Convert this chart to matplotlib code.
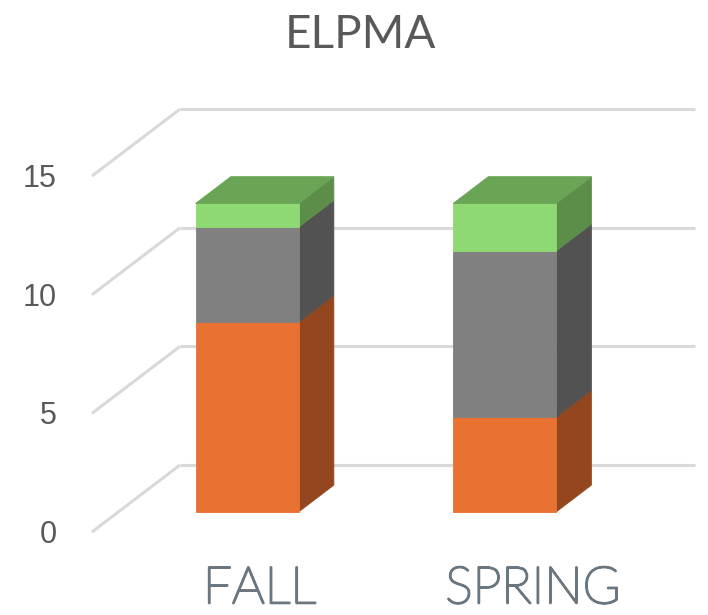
import matplotlib
matplotlib.use("Agg")
import matplotlib.pyplot as plt
from matplotlib.patches import Polygon
import matplotlib.patheffects as pe

# ---- data ----
title = "ELPMA"
categories = ["FALL", "SPRING"]
series_names = ["Series 1", "Series 2", "Series 3"]
series1 = [8, 4]   # orange
series2 = [4, 7]   # gray
series3 = [1, 2]   # green
y_ticks = [0, 5, 10, 15]

# ---- style ----
front_colors = ["#E97132", "#808080", "#8ED973"]
side_colors = ["#94471F", "#525252", "#5C8E4A"]
top_colors = ["#B4582A", "#6A6A6A", "#6AA556"]
grid_color = "#D9D9D9"
text_color = "#595959"
cat_color = "#6B7780"

# oblique projection (depth offsets in data units)
DX = 0.3417   # category units for full depth
DY = 2.821    # value units for full depth
D_FRONT, D_BACK = 0.30, 0.70
BAR_W = 0.40

fig = plt.figure(figsize=(7.08, 6.15), dpi=100)
ax = fig.add_axes([0, 0, 1, 1])
ax.set_xlim(-0.857, 1.892)
ax.set_ylim(-3.498, 22.42)
ax.axis("off")


def P(x, v, d):
    return (x + d * DX, v + d * DY)


x_left, x_right = -0.5, len(categories) - 0.5

# gridlines: back wall + side diagonals
for t in y_ticks:
    ax.plot(*zip(P(x_left, t, 1), P(x_right, t, 1)), color=grid_color, lw=2.2,
            solid_capstyle="butt", zorder=1)
    ax.plot(*zip(P(x_left, t, 0), P(x_left, t, 1)), color=grid_color, lw=2.2,
            solid_capstyle="butt", zorder=1)
    ax.text(x_left - 0.136, t - 0.463, str(t), ha="right", va="baseline",
            fontsize=22, color=text_color, family="Liberation Sans")

series = [series1, series2, series3]
for i, cat in enumerate(categories):
    x0, x1 = i - BAR_W / 2, i + BAR_W / 2
    base = 0
    z = 3
    for k, vals in enumerate(series):
        top = base + vals[i]
        side = [P(x1, base, D_FRONT), P(x1, base, D_BACK), P(x1, top, D_BACK), P(x1, top, D_FRONT)]
        front = [P(x0, base, D_FRONT), P(x1, base, D_FRONT), P(x1, top, D_FRONT), P(x0, top, D_FRONT)]
        ax.add_patch(Polygon(side, closed=True, facecolor=side_colors[k],
                             edgecolor=side_colors[k], lw=0.6, zorder=z))
        ax.add_patch(Polygon(front, closed=True, facecolor=front_colors[k],
                             edgecolor=front_colors[k], lw=0.6, zorder=z + 1))
        if k == len(series) - 1:
            tp = [P(x0, top, D_FRONT), P(x1, top, D_FRONT), P(x1, top, D_BACK), P(x0, top, D_BACK)]
            ax.add_patch(Polygon(tp, closed=True, facecolor=top_colors[k],
                                 edgecolor=top_colors[k], lw=0.6, zorder=z + 2))
        base = top
    ax.text(i + 0.151 + 0.062 * i, -3.0, cat, ha="center", va="baseline",
            fontsize=37, color=cat_color, family="Lato", fontweight="light",
            path_effects=[pe.withStroke(linewidth=1.6, foreground=cat_color)])

fig.text(360 / 708, 1 - 48.3 / 615, title, ha="center", va="baseline",
         fontsize=33, color=text_color, family="Lato")

fig.savefig("out.png", dpi=100)
